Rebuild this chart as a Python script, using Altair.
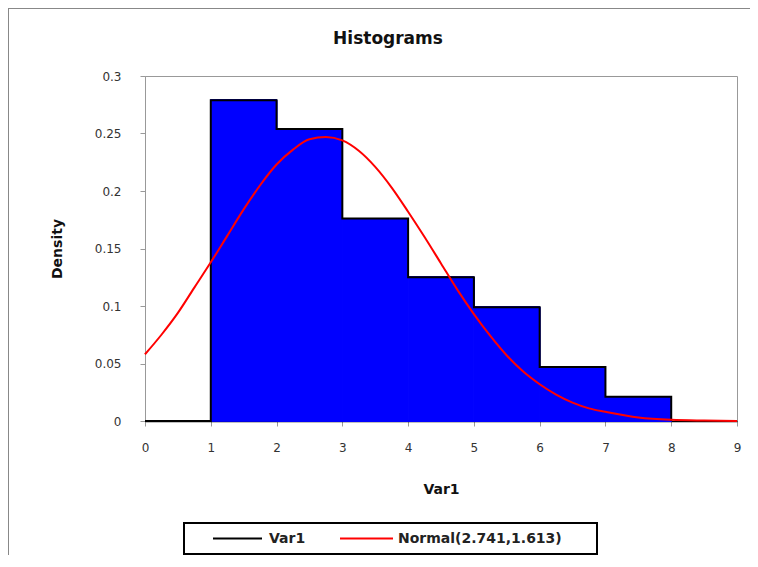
import altair as alt
import pandas as pd

# Histogram bins (Var1) and density per bin
bin_start = [1, 2, 3, 4, 5, 6, 7]
bin_end = [2, 3, 4, 5, 6, 7, 8]
density = [0.279, 0.254, 0.176, 0.125, 0.099, 0.047, 0.021]

# Normal(2.741, 1.613) curve
norm_x = [0, 0.25, 0.5, 0.75, 1, 1.25, 1.5, 1.75, 2, 2.25, 2.5, 2.75, 3, 3.25, 3.5,
          3.75, 4, 4.25, 4.5, 4.75, 5, 5.25, 5.5, 5.75, 6, 6.25, 6.5, 6.75, 7, 7.5,
          8, 8.5, 9]
norm_y = [0.058, 0.075, 0.094, 0.116, 0.138, 0.161, 0.184, 0.205, 0.223, 0.236, 0.245,
          0.247, 0.244, 0.235, 0.221, 0.203, 0.182, 0.160, 0.137, 0.114, 0.093, 0.074,
          0.057, 0.043, 0.032, 0.023, 0.016, 0.011, 0.008, 0.003, 0.001, 0.0004, 0.0001]

x_ticks = [0, 1, 2, 3, 4, 5, 6, 7, 8, 9]
y_ticks = [0, 0.05, 0.1, 0.15, 0.2, 0.25, 0.3]

series_names = ["Var1", "Normal(2.741,1.613)"]
series_colors = ["black", "red"]

# outline of the histogram as a step path starting at 0
step_x = [0] + bin_start + [bin_end[-1]]
step_y = [0] + density + [0]
step = pd.DataFrame({"x": step_x, "y": step_y, "series": series_names[0],
                     "i": range(len(step_x))})
normal = pd.DataFrame({"x": norm_x, "y": norm_y, "series": series_names[1],
                       "i": range(len(norm_x))})

xscale = alt.Scale(domain=[0, 9], nice=False, zero=False)
yscale = alt.Scale(domain=[0, 0.3], nice=False)

xaxis = alt.Axis(values=x_ticks, title="Var1", format="d", grid=False,
                 domainColor="black", domainWidth=1.5, tickColor="#999", tickSize=5,
                 labelPadding=16, titlePadding=29, labelFlush=False)
yaxis = alt.Axis(values=y_ticks, title="Density", format="~g", grid=False,
                 domainColor="#999", tickColor="#999", tickSize=5, labelPadding=19,
                 titlePadding=30)

color = alt.Color("series:N",
                  scale=alt.Scale(domain=series_names, range=series_colors),
                  legend=None)

fill = alt.Chart(step).mark_area(
    interpolate="step-after", fill="#0000FF", stroke="#0000FF", strokeWidth=1
).encode(
    x=alt.X("x:Q", scale=xscale, axis=xaxis),
    y=alt.Y("y:Q", scale=yscale, axis=yaxis),
    order="i:Q",
)

outline = alt.Chart(step).mark_line(interpolate="step-after", strokeWidth=2).encode(
    x=alt.X("x:Q", scale=xscale, axis=xaxis),
    y=alt.Y("y:Q", scale=yscale, axis=yaxis),
    color=color,
    order="i:Q",
)

curve = alt.Chart(normal).mark_line(interpolate="monotone", strokeWidth=2).encode(
    x=alt.X("x:Q", scale=xscale, axis=xaxis),
    y=alt.Y("y:Q", scale=yscale, axis=yaxis),
    color=color,
    order="i:Q",
)

one = alt.Data(values=[{"k": 1}])

# chart-area frame (top and left edges visible)
border_top = alt.Chart(one).mark_rule(color="#888", strokeWidth=2).encode(
    x=alt.value(-137), x2=alt.value(700), y=alt.value(-68))
border_left = alt.Chart(one).mark_rule(color="#888", strokeWidth=2).encode(
    x=alt.value(-137), y=alt.value(-68), y2=alt.value(600))

# legend box below the plot
leg_box = alt.Chart(one).mark_rect(fill="white", stroke="black", strokeWidth=2).encode(
    x=alt.value(39), x2=alt.value(452), y=alt.value(447), y2=alt.value(478))
leg_y = 462.5
leg_line1 = alt.Chart(one).mark_rule(color=series_colors[0], strokeWidth=2).encode(
    x=alt.value(68), x2=alt.value(117), y=alt.value(leg_y))
leg_text1 = alt.Chart(one).mark_text(
    text=series_names[0], align="left", baseline="middle", font="DejaVu Sans",
    fontSize=14, fontWeight="bold", color="#222").encode(
    x=alt.value(124), y=alt.value(leg_y))
leg_line2 = alt.Chart(one).mark_rule(color=series_colors[1], strokeWidth=2).encode(
    x=alt.value(195), x2=alt.value(248), y=alt.value(leg_y))
leg_text2 = alt.Chart(one).mark_text(
    text=series_names[1], align="left", baseline="middle", font="DejaVu Sans",
    fontSize=14, fontWeight="bold", color="#222").encode(
    x=alt.value(253), y=alt.value(leg_y))

chart = alt.layer(
    fill, outline, curve, border_top, border_left,
    leg_box, leg_line1, leg_text1, leg_line2, leg_text2,
).properties(
    width=592, height=345,
    background="white",
    title=alt.Title("Histograms", font="DejaVu Sans", fontSize=17, fontWeight="bold",
                    color="#111", frame="group", anchor="middle", dx=-53, offset=-41),
    autosize=alt.AutoSizeParams(type="none"),
    padding={"left": 137, "top": 68, "right": 13, "bottom": 134},
).configure_view(stroke="#999", strokeWidth=1).configure_axis(
    grid=False, gridColor="#0000FF", gridOpacity=0,
    labelFont="DejaVu Sans", labelFontSize=12, labelColor="#333",
    titleFont="DejaVu Sans", titleFontSize=14, titleFontWeight="bold", titleColor="#111",
)

chart.save("out.html", embed_options={"renderer": "svg", "actions": False})
